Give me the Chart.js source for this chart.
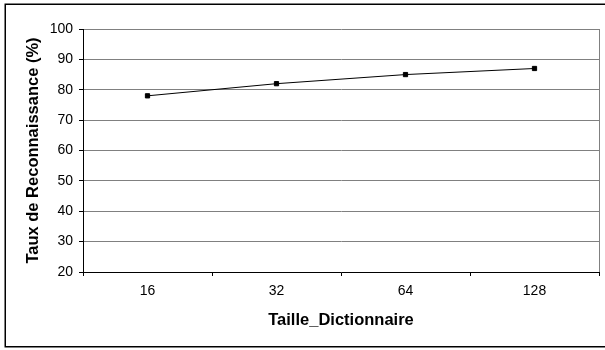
<!DOCTYPE html>
<html>
<head>
<meta charset="utf-8">
<script src="https://cdn.jsdelivr.net/npm/chart.js@4"></script>
<style>
  body { margin: 0; background: #fff; }
  #wrap { width: 605px; height: 350px; }
</style>
</head>
<body>
<div id="wrap"><canvas id="tauxChart"></canvas></div>
<script>
// donnees
const tailles = ['16', '32', '64', '128'];
const taux = [78, 82, 85, 87];
const yTicks = [20, 30, 40, 50, 60, 70, 80, 90, 100];

const FONT = "'Liberation Sans', Arial, sans-serif";

// cadre exterieur + bordure droite de la zone de trace
const cadre = {
  id: 'cadre',
  beforeDraw(chart) {
    const ctx = chart.ctx;
    ctx.save();
    ctx.fillStyle = '#fff';
    ctx.fillRect(0, 0, chart.width, chart.height);
    ctx.strokeStyle = '#000';
    ctx.lineWidth = 1.5;
    ctx.strokeRect(5.25, 4.25, 700, 342.5);
    ctx.restore();
  },
  beforeDatasetsDraw(chart) {
    const a = chart.chartArea;
    const ctx = chart.ctx;
    ctx.save();
    ctx.strokeStyle = '#808080';
    ctx.lineWidth = 1;
    ctx.beginPath();
    ctx.moveTo(Math.round(a.right) + 0.5, a.top);
    ctx.lineTo(Math.round(a.right) + 0.5, a.bottom);
    ctx.stroke();
    ctx.restore();
  }
};

const ctx = document.getElementById('tauxChart').getContext('2d');
new Chart(ctx, {
  type: 'line',
  data: {
    labels: tailles,
    datasets: [{
      data: taux,
      borderColor: '#000',
      borderWidth: 1,
      tension: 0,
      pointStyle: 'rect',
      pointRadius: 3,
      pointBackgroundColor: '#000',
      pointBorderColor: '#000',
      pointBorderWidth: 1
    }]
  },
  options: {
    responsive: true,
    maintainAspectRatio: false,
    animation: false,
    layout: { padding: { top: 29, right: 6, bottom: 18, left: 0 } },
    plugins: { legend: { display: false }, tooltip: { enabled: false } },
    scales: {
      x: {
        offset: true,
        grid: { offset: true, drawOnChartArea: false, tickLength: 4, tickColor: '#000' },
        border: { color: '#000', width: 1 },
        ticks: { color: '#000', padding: 7, font: { family: FONT, size: 14 } },
        title: {
          display: true,
          text: 'Taille_Dictionnaire',
          color: '#000',
          padding: { top: 0, bottom: 2 },
          font: { family: FONT, size: 16.5, weight: 'bold' }
        },
        afterFit(scale) { scale.height = 60; }
      },
      y: {
        min: 20,
        max: 100,
        afterBuildTicks(scale) { scale.ticks = yTicks.map(v => ({ value: v })); },
        grid: { color: '#808080', tickLength: 4, tickColor: '#000' },
        border: { color: '#000', width: 1 },
        ticks: { color: '#000', padding: 6, font: { family: FONT, size: 14 } },
        title: {
          display: true,
          text: 'Taux de Reconnaissance (%)',
          color: '#000',
          padding: { top: 24, bottom: 0 },
          font: { family: FONT, size: 16.5, weight: 'bold' }
        },
        afterFit(scale) { scale.width = 83; }
      }
    }
  },
  plugins: [cadre]
});
</script>
</body>
</html>
